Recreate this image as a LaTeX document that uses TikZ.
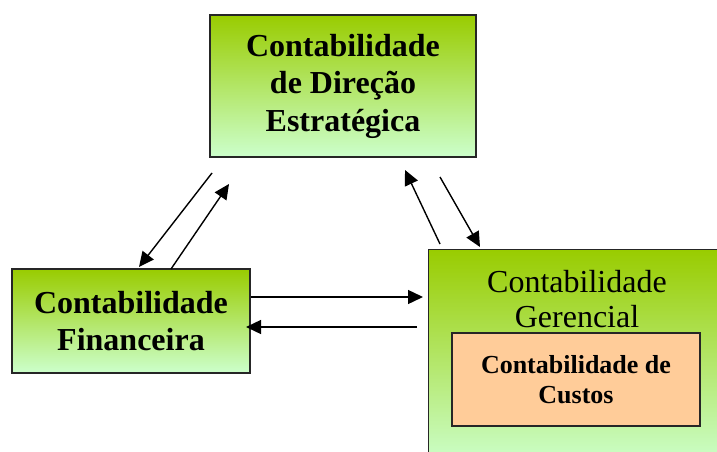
\documentclass[tikz,border=0pt]{standalone}
\usepackage{fontspec}
\setmainfont{Liberation Serif}
\usetikzlibrary{arrows.meta,calc}
\definecolor{gtop}{RGB}{153,204,0}
\definecolor{gbot}{RGB}{204,255,204}
\definecolor{peach}{RGB}{255,204,153}
\begin{document}
\begin{tikzpicture}[x=1pt,y=-1pt,
  greenbox/.style={draw=black!85,line width=1.3pt,top color=gtop,bottom color=gbot,inner sep=0pt},
  custbox/.style={draw=black!85,line width=1.3pt,fill=peach,inner sep=0pt,align=center,
    font=\fontsize{26}{30}\selectfont\bfseries},
  bigbold/.style={align=center,font=\fontsize{32}{37.5}\selectfont\bfseries},
  plaintext/.style={align=center,inner sep=0pt,font=\fontsize{32}{35}\selectfont},
  arr/.style={line width=1.4pt,-{Triangle[length=15pt,width=14pt]}}]
\useasboundingbox (0,0) rectangle (717,452);
\clip (0,0) rectangle (717,452);
\node[greenbox,bigbold,minimum width=266pt,minimum height=142pt] (dir) at (343,86)
  {Contabilidade\\de Direção\\Estratégica};
\node[greenbox,bigbold,minimum width=238pt,minimum height=104pt] (fin) at (131,321)
  {Contabilidade\\Financeira};
\node[greenbox,minimum width=300pt,minimum height=215pt,anchor=north west] (ger) at (428,249) {};
\node[plaintext] (gertext) at (577,299) {Contabilidade\\Gerencial};
\node[custbox,minimum width=248pt,minimum height=93pt] (cus) at (576,379.5)
  {Contabilidade de\\Custos};
\coordinate (a1) at (212,173);
\coordinate (a2) at (139,267);
\coordinate (b1) at (171,269);
\coordinate (b2) at (229,184);
\coordinate (c1) at (440,244);
\coordinate (c2) at (405,170);
\coordinate (d1) at (440,177);
\coordinate (d2) at (480,247);
\coordinate (e1) at (251,297);
\coordinate (e2) at (423,297);
\coordinate (f1) at (417,327);
\coordinate (f2) at (246,327);
\draw[arr] (a1) -- (a2);
\draw[arr] (b1) -- (b2);
\draw[arr] (c1) -- (c2);
\draw[arr] (d1) -- (d2);
\draw[arr] (e1) -- (e2);
\draw[arr] (f1) -- (f2);
\end{tikzpicture}
\end{document}
